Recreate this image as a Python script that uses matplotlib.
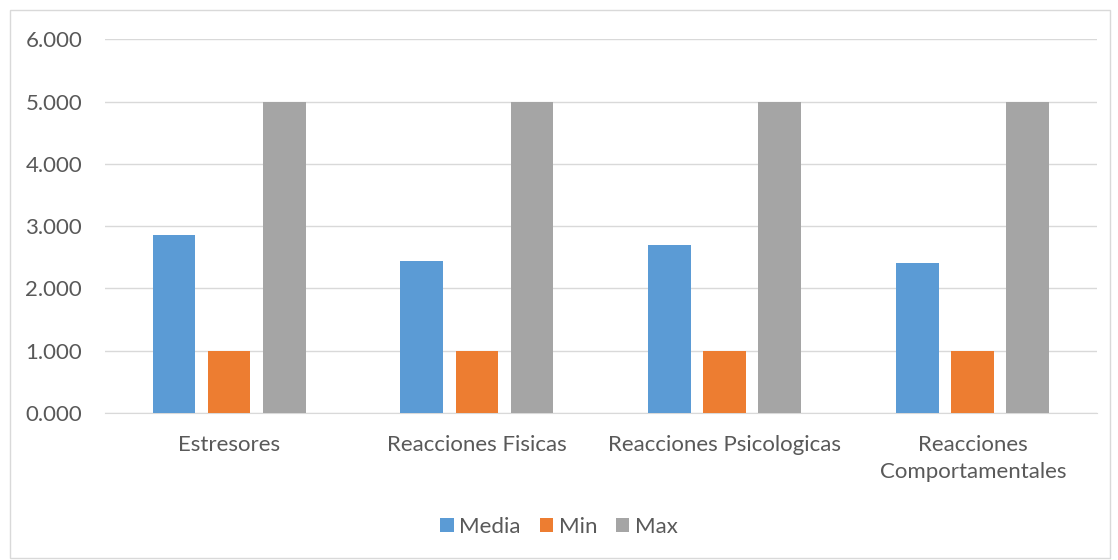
import numpy as np
import matplotlib.pyplot as plt
from matplotlib.patches import Rectangle

categories = ['Estresores', 'Reacciones Fisicas', 'Reacciones Psicologicas',
              'Reacciones\nComportamentales']
media = [2.86, 2.44, 2.70, 2.40]
minimo = [1.0, 1.0, 1.0, 1.0]
maximo = [5.0, 5.0, 5.0, 5.0]
series_names = ['Media', 'Min', 'Max']
colors = ['#5b9bd5', '#ed7d31', '#a5a5a5']

plt.rcParams['font.family'] = ['Lato', 'DejaVu Sans']
text_color = '#595959'
fs = 16

fig = plt.figure(figsize=(11.18, 5.6), dpi=100)
ax = fig.add_axes([0.094, 0.2625, 0.887, 0.6675])

# light border round the whole chart like the Excel chart area
fig.patches.append(Rectangle((10 / 1118, 2 / 560), 1100 / 1118, 548 / 560,
                             transform=fig.transFigure, fill=False,
                             edgecolor='#d9d9d9', linewidth=1.0))

x = np.arange(len(categories))
width = 0.173
step = 0.222
for i, (vals, name) in enumerate(zip([media, minimo, maximo], series_names)):
    ax.bar(x + (i - 1) * step, vals, width, color=colors[i], label=name, zorder=3)

ax.set_xlim(-0.5, len(categories) - 0.5)
ax.set_ylim(0, 6)
ax.set_yticks(np.arange(0, 7, 1))
ax.set_yticklabels([f'{v:.3f}' for v in np.arange(0, 7, 1)])
ax.yaxis.grid(True, color='#d9d9d9', linewidth=1.0, zorder=0)
ax.set_xticks(x)
ax.set_xticklabels(categories, linespacing=1.45)

for side in ['left', 'right', 'top']:
    ax.spines[side].set_visible(False)
ax.spines['bottom'].set_color('#d9d9d9')
ax.tick_params(axis='y', length=0, pad=16.5, labelsize=fs, labelcolor=text_color)
ax.tick_params(axis='x', length=0, pad=16, labelsize=fs, labelcolor=text_color)

leg = fig.legend(loc='center', bbox_to_anchor=(0.5, 1 - 527 / 560), ncol=3, frameon=False,
                 fontsize=fs, handlelength=0.6, handleheight=0.6,
                 handletextpad=0.25, columnspacing=0.85)
for t in leg.get_texts():
    t.set_color(text_color)

fig.savefig('out.png', dpi=100)
